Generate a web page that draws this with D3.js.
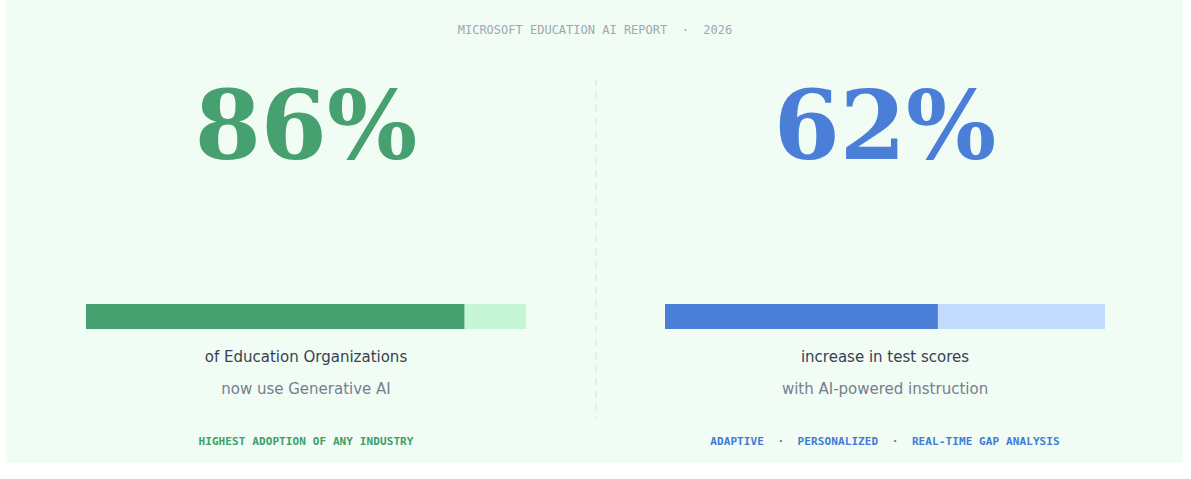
<!DOCTYPE html>
<html>
<head>
<meta charset="utf-8">
<script src="https://cdn.jsdelivr.net/npm/d3@7"></script>
<style>
  body { margin: 0; background: #fff; }
  svg { display: block; }
</style>
</head>
<body>
<div id="chart"></div>
<script>
const dim = {
    width: 1191,
    height: 479
}

// data
const title = 'MICROSOFT EDUCATION AI REPORT  \u00b7  2026'
const stats = [86, 62]
const labels = ['of Education Organizations', 'increase in test scores']
const subLabels = ['now use Generative AI', 'with AI-powered instruction']
const footers = ['HIGHEST ADOPTION OF ANY INDUSTRY', 'ADAPTIVE  \u00b7  PERSONALIZED  \u00b7  REAL-TIME GAP ANALYSIS']
const mainColors = ['#46a06f', '#4a7ed7']
const trackColors = ['#c6f6d5', '#c3dcfe']
const footerColors = ['#3a9f68', '#3f7bd6']

const svg = d3.select('#chart')
    .append('svg')
        .attr('width', dim.width)
        .attr('height', dim.height)

// background card
svg.append('rect')
    .attr('x', 6)
    .attr('y', 0)
    .attr('width', 1177)
    .attr('height', 463)
    .attr('fill', '#f0fcf4')

svg.append('text')
    .attr('x', 595)
    .attr('y', 34)
    .attr('text-anchor', 'middle')
    .attr('font-family', 'DejaVu Sans Mono')
    .attr('font-size', 12)
    .attr('fill', '#9ea8b3')
    .style('white-space', 'pre')
    .text(title)

// divider
svg.append('line')
    .attr('x1', 596)
    .attr('x2', 596)
    .attr('y1', 79)
    .attr('y2', 419)
    .attr('stroke', '#d9f5e3')
    .attr('stroke-width', 2)
    .attr('stroke-dasharray', '7,6')

// scales
const panelScale = d3.scalePoint()
    .domain(d3.range(stats.length))
    .range([306, 885])

const barWidth = 440
const xScale = d3.scaleLinear()
    .domain([0, 100])
    .range([0, barWidth])

const panels = svg.selectAll('g.panel')
    .data(stats)
    .join('g')
        .attr('class', 'panel')
        .attr('transform', (d, i) => `translate(${panelScale(i)},0)`)

panels.append('text')
    .attr('x', 0)
    .attr('y', 159)
    .attr('text-anchor', 'middle')
    .attr('font-family', 'DejaVu Serif')
    .attr('font-weight', 'bold')
    .attr('font-size', 95)
    .attr('fill', (d, i) => mainColors[i])
    .text(d => d + '%')

// track + fill
panels.append('rect')
    .attr('x', -barWidth / 2)
    .attr('y', 304)
    .attr('width', xScale(100))
    .attr('height', 25)
    .attr('fill', (d, i) => trackColors[i])

panels.append('rect')
    .attr('x', -barWidth / 2)
    .attr('y', 304)
    .attr('width', d => xScale(d))
    .attr('height', 25)
    .attr('fill', (d, i) => mainColors[i])

panels.append('text')
    .attr('x', 0)
    .attr('y', 362)
    .attr('text-anchor', 'middle')
    .attr('font-family', 'DejaVu Sans')
    .attr('font-size', 15)
    .attr('fill', '#364252')
    .text((d, i) => labels[i])

panels.append('text')
    .attr('x', 0)
    .attr('y', 394)
    .attr('text-anchor', 'middle')
    .attr('font-family', 'DejaVu Sans')
    .attr('font-size', 15)
    .attr('fill', '#75808f')
    .text((d, i) => subLabels[i])

panels.append('text')
    .attr('x', 0)
    .attr('y', 445)
    .attr('text-anchor', 'middle')
    .attr('font-family', 'DejaVu Sans Mono')
    .attr('font-weight', 'bold')
    .attr('font-size', 11)
    .attr('letter-spacing', 0.1)
    .attr('fill', (d, i) => footerColors[i])
    .style('white-space', 'pre')
    .text((d, i) => footers[i])
</script>
</body>
</html>
